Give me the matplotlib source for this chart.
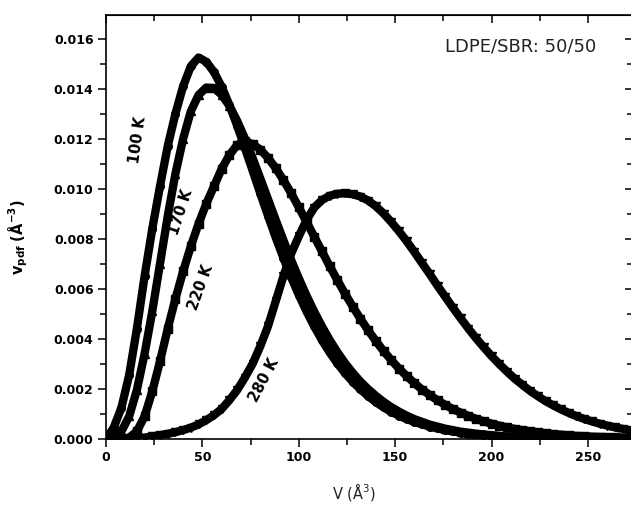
import matplotlib.pyplot as plt
from matplotlib.ticker import MultipleLocator, FormatStrFormatter

# free volume hole size V (A^3) and the distribution at each temperature (units of 1e-3 A^-3)
volume = list(range(0, 273, 4))

pdf_100k = [0.0, 0.45, 1.25, 2.55, 4.4, 6.5, 8.4, 10.1, 11.7, 13.0, 14.1, 14.9, 15.25,
            15.08, 14.67, 14.08, 13.35, 12.53, 11.64, 10.74, 9.82, 8.93, 8.06, 7.24, 6.47,
            5.76, 5.10, 4.50, 3.95, 3.46, 3.02, 2.63, 2.28, 1.98, 1.71, 1.47, 1.26, 1.08,
            0.93, 0.79, 0.68, 0.58, 0.49, 0.42, 0.35, 0.30, 0.25, 0.21, 0.18, 0.15, 0.13,
            0.11, 0.09, 0.08, 0.06, 0.05, 0.04, 0.04, 0.03, 0.03, 0.02, 0.02, 0.02, 0.01,
            0.01, 0.01, 0.01, 0.01, 0.0]

pdf_170k = [0.0, 0.05, 0.3, 0.9, 1.95, 3.4, 5.1, 7.0, 8.9, 10.6, 12.0, 13.1, 13.75, 14.05,
            14.03, 13.76, 13.32, 12.72, 12.02, 11.24, 10.42, 9.59, 8.76, 7.95, 7.16, 6.42,
            5.73, 5.09, 4.50, 3.96, 3.47, 3.03, 2.64, 2.29, 1.99, 1.72, 1.48, 1.27, 1.09,
            0.93, 0.79, 0.68, 0.57, 0.49, 0.41, 0.35, 0.29, 0.25, 0.21, 0.18, 0.15, 0.12,
            0.10, 0.09, 0.07, 0.06, 0.05, 0.04, 0.04, 0.03, 0.03, 0.02, 0.02, 0.02, 0.01,
            0.01, 0.01, 0.01, 0.01]

pdf_220k = [0.0, 0.0, 0.0, 0.05, 0.3, 0.9, 1.9, 3.1, 4.4, 5.6, 6.7, 7.7, 8.6, 9.4, 10.1,
            10.8, 11.35, 11.75,
            11.90, 11.79, 11.57, 11.24, 10.83, 10.35, 9.83, 9.26, 8.68, 8.09, 7.50, 6.91,
            6.35, 5.80, 5.29, 4.80, 4.34, 3.91, 3.51, 3.15, 2.81, 2.51, 2.23, 1.97, 1.75,
            1.54, 1.36, 1.19, 1.05, 0.92, 0.80, 0.70, 0.61, 0.53, 0.46, 0.40, 0.35, 0.30,
            0.26, 0.22, 0.19, 0.17, 0.14, 0.12, 0.11, 0.09, 0.08, 0.07, 0.06, 0.05, 0.04]

pdf_280k = [0.0, 0.0, 0.0, 0.01, 0.03, 0.05, 0.1, 0.15, 0.2, 0.27, 0.35, 0.45, 0.58, 0.75,
            0.95, 1.2, 1.55, 1.95, 2.45, 3.0, 3.7, 4.5, 5.5, 6.5, 7.4, 8.1, 8.75, 9.25, 9.55,
            9.72, 9.8, 9.82,
            9.78, 9.69, 9.53, 9.30, 9.01, 8.67, 8.30, 7.90, 7.47, 7.02, 6.58, 6.12, 5.68,
            5.24, 4.82, 4.41, 4.02, 3.66, 3.31, 2.99, 2.69, 2.41, 2.16, 1.92, 1.71, 1.51,
            1.34, 1.18, 1.04, 0.91, 0.80, 0.70, 0.61, 0.53, 0.46, 0.40, 0.34]

temps = ["100 K", "170 K", "220 K", "280 K"]
markers = ["o", "^", "s", "v"]
curves = [pdf_100k, pdf_170k, pdf_220k, pdf_280k]

fig = plt.figure(figsize=(6.31, 5.08), dpi=100)
ax = fig.add_axes([0.168, 0.136, 0.835, 0.835])

for name, mk, vals in zip(temps, markers, curves):
    ax.plot(volume, [v * 1e-3 for v in vals], color="black", lw=6.0,
            marker=mk, ms=5.5, mec="black", mfc="black", solid_capstyle="round")

ax.set_xlim(0, 273.3)
ax.set_ylim(0, 0.01696)

ax.xaxis.set_major_locator(MultipleLocator(50))
ax.xaxis.set_minor_locator(MultipleLocator(25))
ax.yaxis.set_major_locator(MultipleLocator(0.002))
ax.yaxis.set_minor_locator(MultipleLocator(0.001))
ax.yaxis.set_major_formatter(FormatStrFormatter("%.3f"))

ax.tick_params(which="major", direction="out", length=6, width=1.1, pad=3)
ax.tick_params(which="minor", direction="out", length=4, width=1.1)
for lab in ax.get_xticklabels() + ax.get_yticklabels():
    lab.set_fontweight("bold")
    lab.set_fontsize(9)

# mirrored inward ticks on top and right
top = ax.secondary_xaxis("top")
top.xaxis.set_major_locator(MultipleLocator(50))
top.xaxis.set_minor_locator(MultipleLocator(25))
top.tick_params(which="both", direction="in", labeltop=False, width=1.1)
top.tick_params(which="major", length=6)
top.tick_params(which="minor", length=4)
right = ax.secondary_yaxis("right")
right.yaxis.set_major_locator(MultipleLocator(0.002))
right.yaxis.set_minor_locator(MultipleLocator(0.001))
right.tick_params(which="both", direction="in", labelright=False, width=1.1)
right.tick_params(which="major", length=6)
right.tick_params(which="minor", length=4)

for sp in ax.spines.values():
    sp.set_linewidth(1.2)

ax.set_xlabel("V (Å$^3$)", fontsize=10.5, color="#222222")
ax.xaxis.set_label_coords(0.47, -0.1)
ax.set_ylabel(r"$\mathbf{v_{pdf}}$ $\mathbf{(Å^{-3})}$", fontsize=10.5)
ax.yaxis.set_label_coords(-0.145, 0.475)

ax.text(0.787, 0.925, "LDPE/SBR: 50/50", transform=ax.transAxes, fontsize=13,
        ha="center", va="center", color="#222222")

label_pos = [(16.5, 0.01195, 82), (39, 0.00905, 72), (49, 0.00606, 70), (82, 0.00236, 62)]
for name, (x, y, rot) in zip(temps, label_pos):
    ax.text(x, y, name, rotation=rot, fontsize=10.5, fontweight="bold",
            ha="center", va="center")

fig.savefig("out.png", dpi=100)
